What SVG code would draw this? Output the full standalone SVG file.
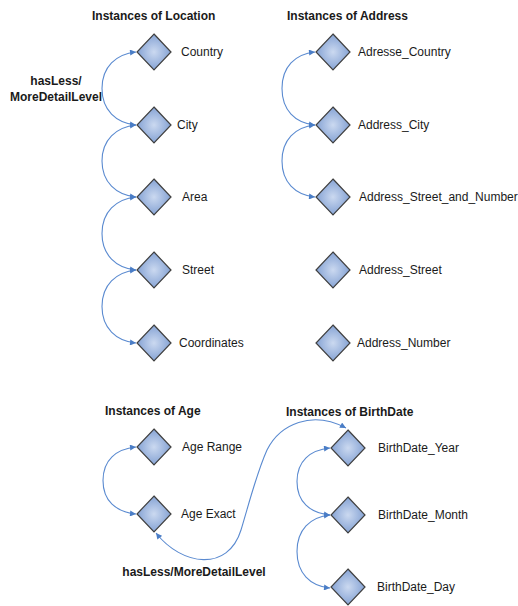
<svg xmlns="http://www.w3.org/2000/svg" width="518" height="606" viewBox="0 0 518 606">
<defs>
<radialGradient id="dg" cx="50%" cy="50%" r="55%">
<stop offset="0" stop-color="#cbd9f0"/>
<stop offset="1" stop-color="#7e9dd1"/>
</radialGradient>
<marker id="ah" viewBox="0 0 10 10" refX="10" refY="5" markerWidth="7" markerHeight="6" markerUnits="userSpaceOnUse" orient="auto-start-reverse">
<path d="M0,0 L10,5 L0,10 z" fill="#4a7dc6"/>
</marker>
<path id="dia" d="M0,-18 L17,0 L0,18 L-17,0 z"/>
</defs>
<style>
.d{fill:url(#dg);stroke:#404040;stroke-width:1.2}
.t{font-family:"Liberation Sans",Arial,sans-serif;font-size:12px;fill:#1a1a1a}
.h{font-family:"Liberation Sans",Arial,sans-serif;font-size:12px;font-weight:bold;fill:#1a1a1a}
.c{fill:none;stroke:#5a8ad0;stroke-width:1.1;marker-start:url(#ah);marker-end:url(#ah)}
</style>
<rect width="518" height="606" fill="#ffffff"/>
<g id="titles">
<text class="h" x="92" y="20">Instances of Location</text>
<text class="h" x="287" y="20">Instances of Address</text>
<text class="h" x="105" y="415">Instances of Age</text>
<text class="h" x="286" y="416">Instances of BirthDate</text>
</g>
<g id="connectors">
<path class="c" d="M136,52 C116,54 102,67 102,88.5 C102,110 116,123 136,125"/>
<path class="c" d="M136,125 C116,127 102,140 102,161 C102,182 116,195 136,197"/>
<path class="c" d="M136,197 C116,199 102,212 102,233.5 C102,255 116,268 136,270"/>
<path class="c" d="M136,270 C116,272 102,285 102,306.5 C102,328 116,341 136,343"/>
<path class="c" d="M315,52 C295,54 282,67 282,88.5 C282,110 295,123 315,125"/>
<path class="c" d="M315,125 C295,127 282,140 282,161 C282,182 295,195 315,197"/>
<path class="c" d="M136,447 C116,449 103,460 103,480.5 C103,501 116,512 136,514"/>
<path class="c" d="M330,448 C310,450 297,461 297,481.5 C297,502 310,513 330,515"/>
<path class="c" d="M330,515 C310,517 297,530 297,551.5 C297,573 310,586 330,588"/>
<path class="c" d="M156,533 C182,566 228,572 241,530 C250,500 257,472 267,450 C280,424 312,410 346,428"/>
<text class="h" x="56" y="85" text-anchor="middle">hasLess/</text>
<text class="h" x="56" y="101" text-anchor="middle">MoreDetailLevel</text>
<text class="h" x="194" y="576" text-anchor="middle">hasLess/MoreDetailLevel</text>
</g>
<g id="n-country"><use href="#dia" class="d" x="154" y="52"/><text class="t" x="181" y="56">Country</text></g>
<g id="n-city"><use href="#dia" class="d" x="154" y="125"/><text class="t" x="177" y="129">City</text></g>
<g id="n-area"><use href="#dia" class="d" x="154" y="197"/><text class="t" x="182" y="201">Area</text></g>
<g id="n-street"><use href="#dia" class="d" x="154" y="270"/><text class="t" x="182" y="274">Street</text></g>
<g id="n-coordinates"><use href="#dia" class="d" x="154" y="343"/><text class="t" x="179" y="347">Coordinates</text></g>
<g id="n-adresse-country"><use href="#dia" class="d" x="333" y="52"/><text class="t" x="358" y="56">Adresse_Country</text></g>
<g id="n-address-city"><use href="#dia" class="d" x="333" y="125"/><text class="t" x="358" y="129">Address_City</text></g>
<g id="n-address-street-number"><use href="#dia" class="d" x="333" y="197"/><text class="t" x="359" y="201">Address_Street_and_Number</text></g>
<g id="n-address-street"><use href="#dia" class="d" x="333" y="270"/><text class="t" x="359" y="274">Address_Street</text></g>
<g id="n-address-number"><use href="#dia" class="d" x="333" y="343"/><text class="t" x="357" y="347">Address_Number</text></g>
<g id="n-age-range"><use href="#dia" class="d" x="154" y="447"/><text class="t" x="182" y="451">Age Range</text></g>
<g id="n-age-exact"><use href="#dia" class="d" x="154" y="514"/><text class="t" x="181" y="518">Age Exact</text></g>
<g id="n-bd-year"><use href="#dia" class="d" x="348" y="448"/><text class="t" x="378" y="452">BirthDate_Year</text></g>
<g id="n-bd-month"><use href="#dia" class="d" x="348" y="515"/><text class="t" x="378" y="519">BirthDate_Month</text></g>
<g id="n-bd-day"><use href="#dia" class="d" x="348" y="587"/><text class="t" x="377" y="591">BirthDate_Day</text></g>
</svg>
